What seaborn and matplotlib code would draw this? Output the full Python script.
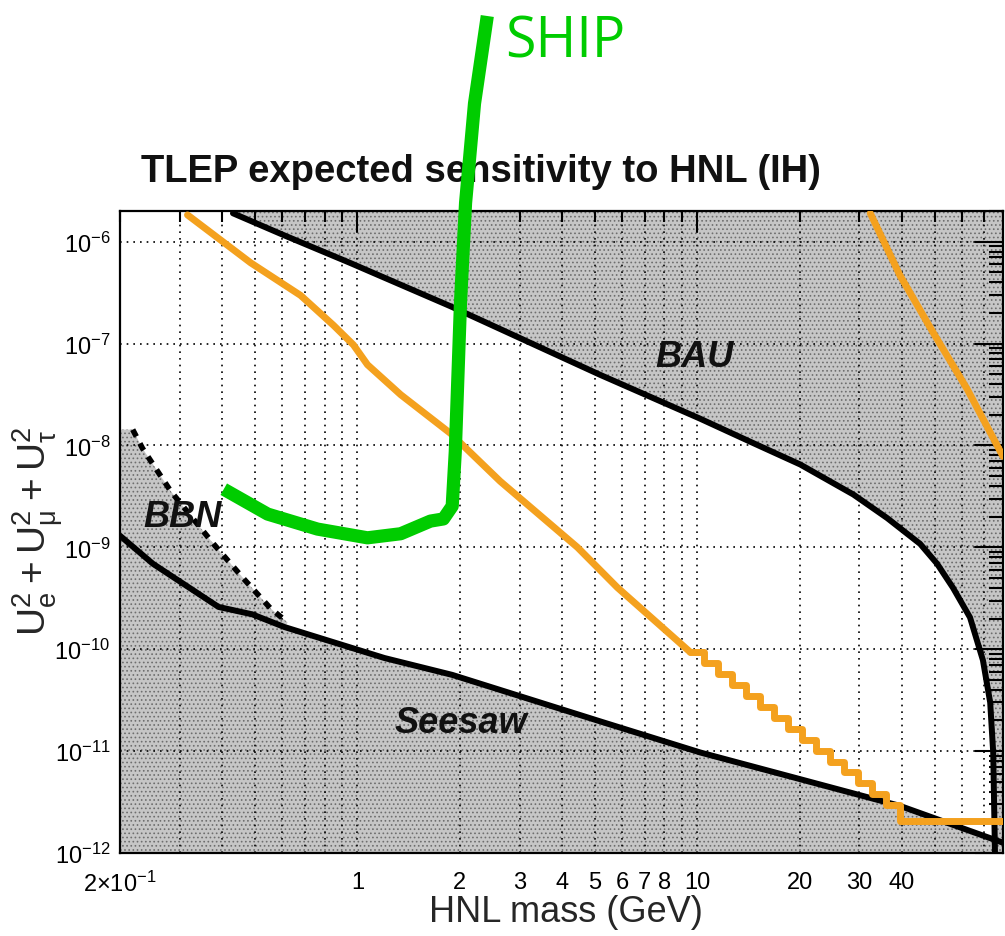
import matplotlib.pyplot as plt
import matplotlib.ticker as mticker
import seaborn as sns

# HNL mass (GeV) and mixing U^2
seesaw_mass = [0.2, 0.25, 0.39, 0.49, 0.61, 1.2, 1.9, 5.2, 10.2, 20.1, 39.5, 80]
seesaw_u = [1.3e-9, 6.9e-10, 2.6e-10, 2.2e-10, 1.65e-10, 8.2e-11, 5.6e-11,
            1.95e-11, 9.7e-12, 5.3e-12, 2.9e-12, 1.25e-12]

bau_mass = [0.43, 0.61, 0.95, 1.88, 5.18, 10.2, 14.3, 20.1, 28.8, 36.2, 45.3,
            50.8, 56.6, 63.5, 69.3, 72.8, 74.3, 75.2]
bau_u = [1.9e-6, 1.15e-6, 6.2e-7, 2.32e-7, 4.93e-8, 1.83e-8, 1.09e-8, 6.5e-9,
         3.3e-9, 1.94e-9, 1.08e-9, 6.9e-10, 4.0e-10, 2.05e-10, 7.8e-11, 3.0e-11,
         9.7e-12, 1.0e-12]

bbn_mass = [0.218, 0.233, 0.282, 0.377, 0.462, 0.555, 0.623]
bbn_u = [1.43e-8, 9.35e-9, 3.56e-9, 1.08e-9, 4.93e-10, 2.51e-10, 1.83e-10]

tlep_mass = [0.316, 0.485, 0.68, 0.85, 0.973, 1.07, 1.34, 1.88, 2.63, 4.44, 5.82, 9.54]
tlep_u = [1.83e-6, 6.2e-7, 2.97e-7, 1.51e-7, 9.7e-8, 6.2e-8, 3.15e-8, 1.31e-8,
          4.45e-9, 1.0e-9, 4.03e-10, 9.35e-11]

step_mass = [9.54, 10.49, 11.53, 12.68, 13.94, 15.32, 16.84, 18.52, 20.35, 22.38,
             24.6, 27.05, 29.74, 32.7, 35.95, 39.52, 80]
step_u = [9.35e-11, 7.3e-11, 5.7e-11, 4.46e-11, 3.48e-11, 2.72e-11, 2.12e-11,
          1.66e-11, 1.29e-11, 1.01e-11, 7.9e-12, 6.17e-12, 4.82e-12, 3.76e-12,
          2.94e-12, 2.05e-12, 2.05e-12]

tlep2_mass = [32.3, 39.5, 49.4, 62.2, 79.4]
tlep2_u = [1.9e-6, 4.66e-7, 1.29e-7, 3.6e-8, 7.8e-9]

ship_mass = [0.404, 0.544, 0.763, 1.07, 1.34, 1.64, 1.79, 1.90, 1.94, 2.01,
             2.08, 2.21, 2.41]
ship_u = [3.72e-9, 2.12e-9, 1.51e-9, 1.24e-9, 1.36e-9, 1.81e-9, 1.90e-9,
          2.54e-9, 8.7e-9, 2.54e-7, 2.4e-6, 2.27e-5, 1.64e-4]

minor_x = [0.2, 0.3, 0.4, 0.5, 0.6, 0.7, 0.8, 0.9, 2, 3, 4, 5, 6, 7, 8, 9,
           20, 30, 40, 50, 60, 70]
minor_x_labels = [r"$2{\times}10^{-1}$", "", "", "", "", "", "", "",
                  "2", "3", "4", "5", "6", "7", "8", "", "20", "30", "40", "", "", ""]

sns.set_style("white")
plt.rcParams["font.family"] = ["Liberation Sans", "DejaVu Sans"]
plt.rcParams["mathtext.default"] = "regular"
plt.rcParams["hatch.linewidth"] = 0.7

W, H = 1005, 937
fig = plt.figure(figsize=(W / 100, H / 100), dpi=100)
ax = fig.add_axes([120 / W, 83 / H, 883 / W, 642 / H])
ax.set_xscale("log")
ax.set_yscale("log")
ax.set_xlim(0.2, 79.4)
ax.set_ylim(1e-12, 2e-6)

shade = dict(facecolor="#c6c6c6", edgecolor="#6e6e6e", hatch="....", linewidth=0, zorder=1)

# excluded regions
ax.fill_between(seesaw_mass, seesaw_u, 1e-14, **shade)
ax.fill(bau_mass + [bau_mass[-1], 200, 200, bau_mass[0]],
        bau_u + [1e-14, 1e-14, 1e-3, 1e-3], **shade)
low = [i for i, m in enumerate(seesaw_mass) if m < bbn_mass[-1]]
ax.fill([0.2] + bbn_mass + [seesaw_mass[i] for i in reversed(low)],
        [bbn_u[0]] + bbn_u + [seesaw_u[i] for i in reversed(low)], **shade)

line_kw = dict(ax=ax, estimator=None, sort=False, legend=False)
sns.lineplot(x=seesaw_mass, y=seesaw_u, color="black", linewidth=4.3, zorder=4, **line_kw)
sns.lineplot(x=bau_mass, y=bau_u, color="black", linewidth=4.3, zorder=4,
             solid_joinstyle="round", **line_kw)
sns.lineplot(x=bbn_mass, y=bbn_u, color="black", linewidth=4.0,
             linestyle=(0, (1.4, 1.4)), zorder=4, **line_kw)

orange = "#f4a11e"
sns.lineplot(x=tlep_mass, y=tlep_u, color=orange, linewidth=5, zorder=5,
             solid_joinstyle="round", **line_kw)
sns.lineplot(x=step_mass, y=step_u, color=orange, linewidth=5, zorder=5,
             drawstyle="steps-post", **line_kw)
sns.lineplot(x=tlep2_mass, y=tlep2_u, color=orange, linewidth=5, zorder=5, **line_kw)

sns.lineplot(x=ship_mass, y=ship_u, color="#00cc00", linewidth=9.5, zorder=8,
             solid_capstyle="butt", solid_joinstyle="round", **line_kw)
ax.lines[-1].set_clip_on(False)

# grid and ticks, ROOT-like
ax.set_axisbelow(False)
ax.set_xticks([1, 10], labels=["1", "10"])
ax.set_xticks(minor_x, labels=minor_x_labels, minor=True)
ax.yaxis.set_major_locator(mticker.LogLocator(base=10, numticks=20))
ax.yaxis.set_major_formatter(mticker.LogFormatterMathtext())
ax.yaxis.set_minor_locator(mticker.LogLocator(base=10, subs=range(2, 10), numticks=100))
ax.yaxis.set_minor_formatter(mticker.NullFormatter())
ax.set_xlim(0.2, 79.4)
ax.set_ylim(1e-12, 2e-6)

grid_kw = dict(color="black", linestyle=(0, (1, 3)), linewidth=1.2)
ax.xaxis.grid(True, which="both", **grid_kw)
ax.yaxis.grid(True, which="major", **grid_kw)
ax.yaxis.grid(False, which="minor")

ax.tick_params(which="both", direction="in", top=True, right=True, width=1.5,
               color="black", labelcolor="black")
ax.tick_params(axis="y", which="major", length=20, labelsize=17, pad=7)
ax.tick_params(axis="y", which="minor", length=10)
ax.tick_params(axis="x", which="major", length=15, labelsize=17, pad=13)
ax.tick_params(axis="x", which="minor", length=8, labelsize=17, pad=13)
for sp in ax.spines.values():
    sp.set_linewidth(1.6)
    sp.set_color("black")

# region labels
lab_kw = dict(fontsize=26, fontweight="bold", fontstyle="italic", color="#111111",
              ha="center", va="center", zorder=6)
ax.text(9.8, 7.4e-8, "BAU", **lab_kw)
ax.text(0.306, 2.03e-9, "BBN", **lab_kw)
ax.text(2.01, 1.9e-11, "Seesaw", **lab_kw)

ax.text(481 / W, 1 - 182 / H, "TLEP expected sensitivity to HNL (IH)",
        transform=fig.transFigure, ha="center", va="baseline", fontsize=27.5,
        fontweight="bold", color="#111111", zorder=3)
ax.text(505 / W, 1 - 58 / H, "SHIP", transform=fig.transFigure, ha="left",
        va="baseline", fontsize=40, family="Open Sans", color="#00cc00", zorder=9)

fig.text(566 / W, 1 - 913 / H, "HNL mass (GeV)", ha="center", va="center", fontsize=26)
fig.text(38 / W, 1 - 531 / H, r"$U_{e}^{2} + U_{\mu}^{2} + U_{\tau}^{2}$",
         rotation=90, ha="center", va="center", fontsize=28)

fig.savefig("out.png", dpi=100)
